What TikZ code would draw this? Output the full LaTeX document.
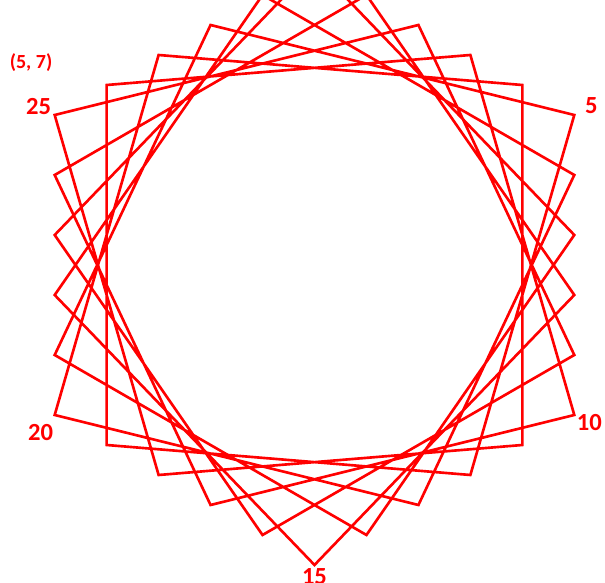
\documentclass[tikz,border=0pt]{standalone}
\usepackage{fontspec}
\setmainfont{Carlito}
\usepackage{tikz}
\usetikzlibrary{calc,positioning}

\begin{document}
\begin{tikzpicture}[
  edge/.style={draw=red, line width=0.75pt, line join=miter},
  lbl/.style={text=red, font=\fontsize{7}{8}\selectfont\bfseries, inner sep=0pt},
  tag/.style={text=red, font=\fontsize{5.7}{6.5}\selectfont\bfseries, inner sep=0pt}
]
  \clip (-3.145,-3.18) rectangle (2.905,2.65);
  \useasboundingbox (-3.145,-3.18) rectangle (2.905,2.65);

  % 30 points, 5 on each side of the hexagon
  \foreach \v in {0,...,5}
    \foreach \t in {0,...,4} {
      \pgfmathtruncatemacro\i{5*\v+\t}
      \coordinate (p\i) at ($({90-60*\v}:3)!\t/5!({30-60*\v}:3)$);
    }

  % point i to point i+7
  \draw[edge] (p0)
    \foreach \k [evaluate=\k as \j using {int(mod(7*\k,30))}] in {1,...,29} { -- (p\j) }
    -- cycle;

  \node[lbl] (n5)  at ($(p5)+(0.17,0.09)$)   {5};
  \node[lbl] (n10) at ($(p10)+(0.15,-0.08)$) {10};
  \node[lbl] (n15) at ($(p15)+(0,-0.12)$)    {15};
  \node[lbl] (n20) at ($(p20)+(-0.14,-0.18)$) {20};
  \node[lbl] (n25) at ($(p25)+(-0.16,0.08)$) {25};
  \node[tag] (title) at (-2.835,2.02) {(5, 7)};
\end{tikzpicture}
\end{document}
